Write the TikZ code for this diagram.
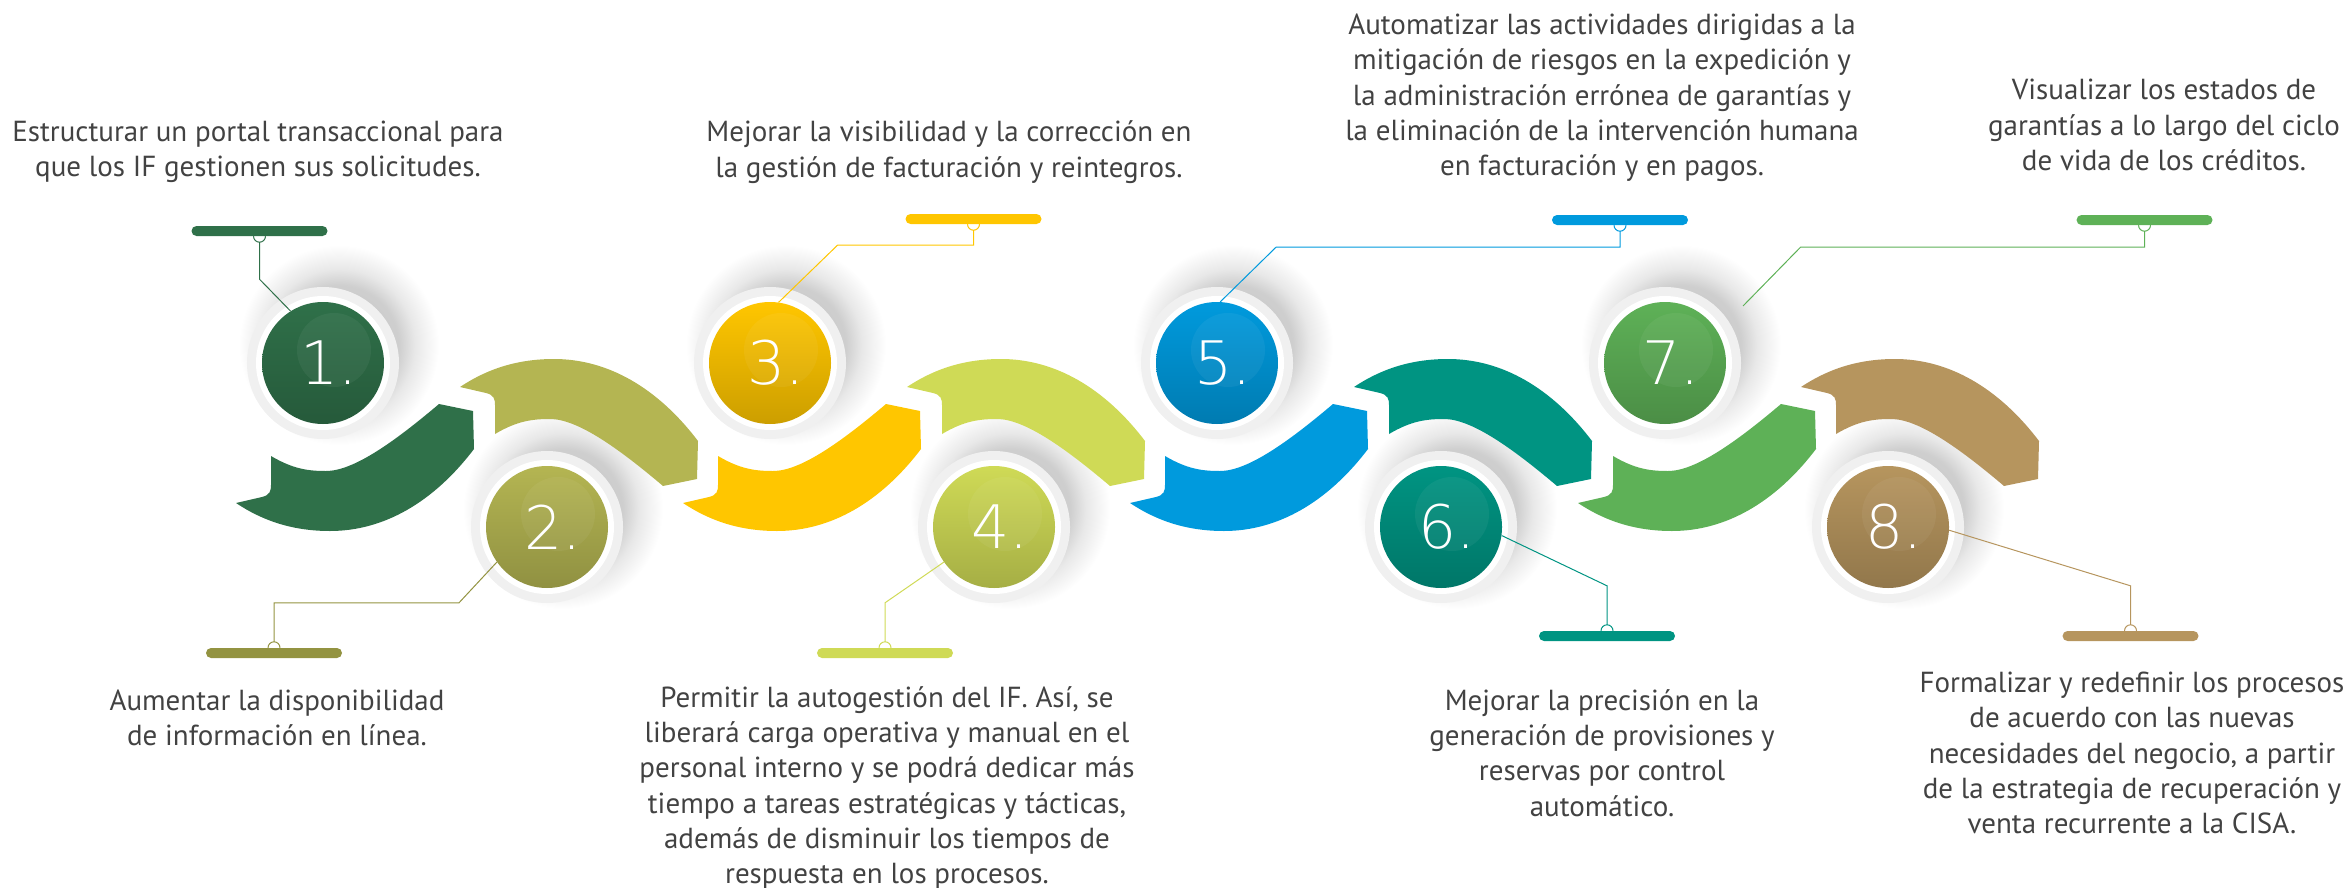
\documentclass[tikz,border=0pt]{standalone}
\usepackage{fontspec}
\setmainfont{PT Sans}
\newfontfamily\numfont{DejaVu Sans ExtraLight}
\usepackage{xcolor}
\usetikzlibrary{calc}

\definecolor{tone1}{HTML}{2F7049}
\definecolor{tone2}{HTML}{B4B552}
\definecolor{tone2bar}{HTML}{939341}
\definecolor{tone3}{HTML}{FFC600}
\definecolor{tone4}{HTML}{CFDA56}
\definecolor{tone5}{HTML}{009ADD}
\definecolor{tone6}{HTML}{009482}
\definecolor{tone7}{HTML}{5EB157}
\definecolor{tone8}{HTML}{B6955E}

\pgfdeclareradialshading{halo}{\pgfpoint{0bp}{0bp}}{color(0bp)=(black!24); color(15bp)=(black!19); color(19bp)=(black!9); color(25bp)=(white); color(50bp)=(white)}

\begin{document}
\begin{tikzpicture}[
        x=1pt, y=-1pt,
        every node/.style={inner sep=0pt},
        disk/.style={circle, minimum size=122pt, top color=#1, bottom color=#1!80!black,
            preaction={draw=black!6, line width=30pt},
            preaction={draw=white, line width=12pt}},
        num/.style={text=white, font=\numfont\fontsize{60}{60}\selectfont},
        bar/.style={rectangle, rounded corners=5pt, minimum width=136pt, minimum height=10pt},
        link/.style={line width=1pt},
        txt/.style={align=center, text=black!74, font=\fontsize{29}{35.3}\selectfont},
        ribbon/.pic={
            \fill (-87,140) -- (-61,134) .. controls (-53,132) and (-52,128) .. (-52,122) -- (-52,93)
                .. controls (-30,106) and (-15,108) .. (3,108) .. controls (30,108) and (70,80) .. (116,41)
                -- (150,48) -- (151,86) .. controls (110,140) and (60,168) .. (7,168)
                .. controls (-30,168) and (-60,158) .. cycle;
        },
    ]

    \useasboundingbox (0,0) rectangle (2347,888);

    %% ===== Step centres =====
    \coordinate (p1) at (323,363);
    \coordinate (p2) at (547,527);
    \coordinate (p3) at (770,363);
    \coordinate (p4) at (994,527);
    \coordinate (p5) at (1217,363);
    \coordinate (p6) at (1441,527);
    \coordinate (p7) at (1665,363);
    \coordinate (p8) at (1888,527);

    %% ===== Soft shadows =====
    \foreach \k in {1,...,8}
        \shade[shading=halo] ($(p\k)+(16,-18)$) circle (100);

    %% ===== Wave ribbon =====
    \pic[tone1] at (p1) {ribbon};
    \pic[tone2, yscale=-1] at (p2) {ribbon};
    \pic[tone3] at (p3) {ribbon};
    \pic[tone4, yscale=-1] at (p4) {ribbon};
    \pic[tone5] at (p5) {ribbon};
    \pic[tone6, yscale=-1] at (p6) {ribbon};
    \pic[tone7] at (p7) {ribbon};
    \pic[tone8, yscale=-1] at (p8) {ribbon};

    %% ===== Numbered disks =====
    \node[disk=tone1] (c1) at (p1) {};
    \node[disk=tone2] (c2) at (p2) {};
    \node[disk=tone3] (c3) at (p3) {};
    \node[disk=tone4] (c4) at (p4) {};
    \node[disk=tone5] (c5) at (p5) {};
    \node[disk=tone6] (c6) at (p6) {};
    \node[disk=tone7] (c7) at (p7) {};
    \node[disk=tone8] (c8) at (p8) {};
    \foreach \k in {1,...,8}
        \fill[white, opacity=0.05] ($(c\k)+(11,-13)$) circle (37);
    \foreach \k in {1,...,8}
        \node[num] (n\k) at ($(c\k)+(6,0)$) {\k.};

    %% ===== Label bars =====
    \node[bar, fill=tone1] (b1) at (259.5,231) {};
    \node[bar, fill=tone2bar] (b2) at (274,653) {};
    \node[bar, fill=tone3] (b3) at (973.5,219) {};
    \node[bar, fill=tone4] (b4) at (885,653) {};
    \node[bar, fill=tone5] (b5) at (1620,220) {};
    \node[bar, fill=tone6] (b6) at (1607,636) {};
    \node[bar, fill=tone7] (b7) at (2144.5,220) {};
    \node[bar, fill=tone8] (b8) at (2130.5,636) {};

    %% ===== Connectors =====
    \draw[link, tone1] ([xshift=-6pt]b1.south) arc[start angle=180, end angle=0, radius=6];
    \draw[link, tone1] ([yshift=-6pt]b1.south) -- ([yshift=-43pt]b1.south) -- (c1.122);

    \draw[link, tone2bar] ([xshift=-6pt]b2.north) arc[start angle=180, end angle=360, radius=6];
    \draw[link, tone2bar] ([yshift=6pt]b2.north) -- ([yshift=45pt]b2.north) -- ++(185,0) -- (c2.215);

    \draw[link, tone3] ([xshift=-6pt]b3.south) arc[start angle=180, end angle=0, radius=6];
    \draw[link, tone3] ([yshift=-6pt]b3.south) -- ([yshift=-21pt]b3.south) -- ++(-136,0) -- (c3.82);

    \draw[link, tone4] ([xshift=-6pt]b4.north) arc[start angle=180, end angle=360, radius=6];
    \draw[link, tone4] ([yshift=6pt]b4.north) -- ([yshift=45pt]b4.north) -- (c4.215);

    \draw[link, tone5] ([xshift=-6pt]b5.south) arc[start angle=180, end angle=0, radius=6];
    \draw[link, tone5] ([yshift=-6pt]b5.south) -- ([yshift=-22pt]b5.south) -- ++(-344,0) -- (c5.87);

    \draw[link, tone6] ([xshift=-6pt]b6.north) arc[start angle=180, end angle=360, radius=6];
    \draw[link, tone6] (c6.352) -- ([yshift=45pt]b6.north) -- ([yshift=6pt]b6.north);

    \coordinate (e7) at ($(c7)+(78,-57)$);
    \draw[link, tone7] ([xshift=-6pt]b7.south) arc[start angle=180, end angle=0, radius=6];
    \draw[link, tone7] ([yshift=-6pt]b7.south) -- ([yshift=-22pt]b7.south) -- ++(-344,0) -- (e7);

    \draw[link, tone8] ([xshift=-6pt]b8.north) arc[start angle=180, end angle=360, radius=6];
    \draw[link, tone8] (c8.357) -- ([yshift=45pt]b8.north) -- ([yshift=6pt]b8.north);

    %% ===== Texts =====
    \node[txt] (t1) at (258,152) {Estructurar un portal transaccional para\\que los IF gestionen sus solicitudes.};
    \node[txt] (t2) at (277,718) {Aumentar la disponibilidad\\de información en línea.};
    \node[txt] (t3) at (949,152) {Mejorar la visibilidad y la corrección en\\la gestión de facturación y reintegros.};
    \node[txt] (t4) at (887,788) {Permitir la autogestión del IF. Así, se\\liberará carga operativa y manual en el\\personal interno y se podrá dedicar más\\tiempo a tareas estratégicas y tácticas,\\además de disminuir los tiempos de\\respuesta en los procesos.};
    \node[txt] (t5) at (1602,98) {Automatizar las actividades dirigidas a la\\mitigación de riesgos en la expedición y\\la administración errónea de garantías y\\la eliminación de la intervención humana\\en facturación y en pagos.};
    \node[txt] (t6) at (1602,753) {Mejorar la precisión en la\\generación de provisiones y\\reservas por control\\automático.};
    \node[txt] (t7) at (2164,125) {Visualizar los estados de\\garantías a lo largo del ciclo\\de vida de los créditos.};
    \node[txt] (t8) at (2132,753) {Formalizar y redefinir los procesos\\de acuerdo con las nuevas\\necesidades del negocio, a partir\\de la estrategia de recuperación y\\venta recurrente a la CISA.};

\end{tikzpicture}
\end{document}
